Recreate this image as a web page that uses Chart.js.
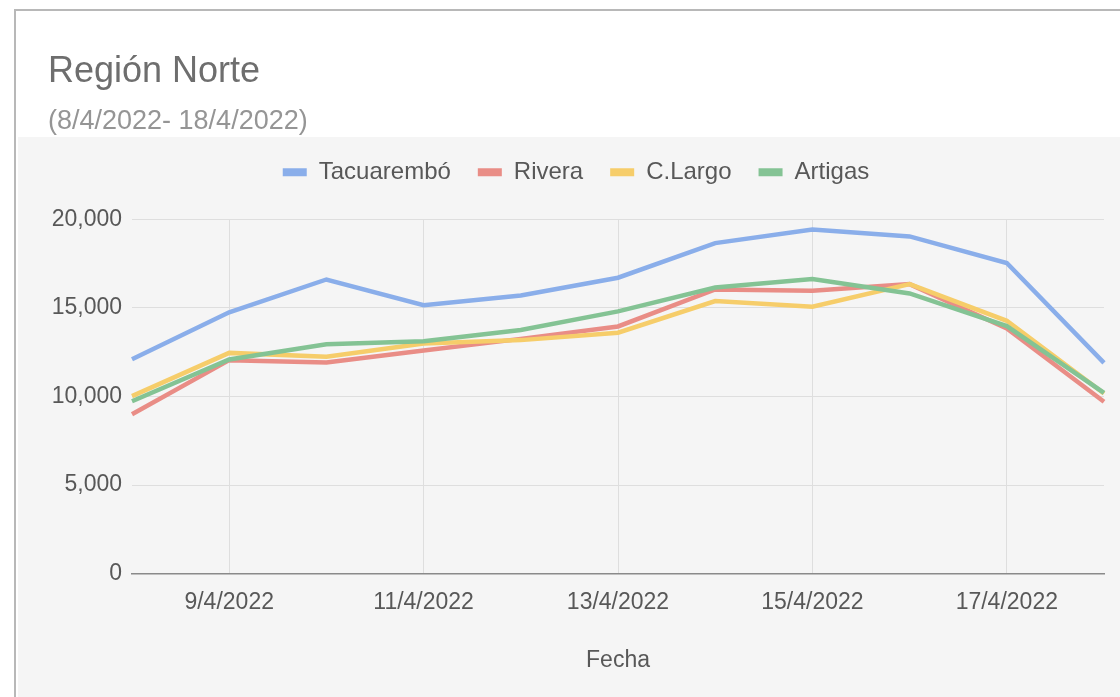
<!DOCTYPE html>
<html>
<head>
<meta charset="utf-8">
<script src="https://cdn.jsdelivr.net/npm/chart.js@4/dist/chart.umd.min.js"></script>
<style>
    body { margin: 0; background: #fff; }
    #box {
        position: absolute; left: 14px; top: 9px;
        width: 1104px; height: 686px;
        border-top: 2px solid #b8b8b8; border-left: 2px solid #b8b8b8;
    }
    #box canvas { display: block; }
</style>
</head>
<body>
<div id="box"><canvas id="chart" width="1104" height="686"></canvas></div>
<script>
var fechas = ["8/4/2022", "9/4/2022", "10/4/2022", "11/4/2022", "12/4/2022", "13/4/2022",
              "14/4/2022", "15/4/2022", "16/4/2022", "17/4/2022", "18/4/2022"];
var tacuarembo = [12100, 14750, 16600, 15150, 15700, 16700, 18650, 19420, 19030, 17530, 11900];
var rivera     = [9000, 12050, 11920, 12600, 13250, 13950, 16040, 15960, 16340, 13840, 9700];
var cLargo     = [10020, 12460, 12240, 12990, 13180, 13600, 15380, 15060, 16340, 14270, 10170];
var artigas    = [9730, 12090, 12950, 13120, 13750, 14800, 16150, 16620, 15810, 13970, 10200];
var yTicks     = [0, 5000, 10000, 15000, 20000];

var FONT = "'Liberation Sans', Arial, sans-serif";
var TEXTO = '#585858';

function serie(label, data, color, order) {
    return {
        label: label,
        data: data,
        borderColor: color,
        backgroundColor: color,
        borderWidth: 4.5,
        pointRadius: 0,
        tension: 0,
        order: order
    };
}

// grey plot background below the header, like the sheets export
var fondo = {
    id: 'fondo',
    beforeDraw: function(chart) {
        var ctx = chart.ctx;
        ctx.save();
        ctx.fillStyle = '#f5f5f5';
        ctx.fillRect(2, 126, chart.width, chart.height - 126);
        ctx.restore();
    },
    // legend needs extra room underneath, chart.js has no margin for it
    beforeLayout: function(chart) {
        var lg = chart.legend;
        if (lg && !lg._alto) {
            var fit = lg.fit;
            lg.fit = function() {
                fit.call(this);
                this.height = 86;
            };
            lg._alto = true;
        }
    }
};

var ctx = document.getElementById('chart').getContext('2d');
new Chart(ctx, {
    type: 'line',
    data: {
        labels: fechas,
        datasets: [
            serie('Tacuarembó', tacuarembo, '#8aaeea', 3),
            serie('Rivera', rivera, '#e98d86', 2),
            serie('C.Largo', cLargo, '#f6cd6a', 1),
            serie('Artigas', artigas, '#84c394', 0)
        ]
    },
    options: {
        responsive: false,
        animation: false,
        locale: 'en-US',
        layout: { padding: { left: 32, right: 16, top: 0, bottom: 23 } },
        plugins: {
            title: {
                display: true,
                text: 'Región Norte',
                align: 'start',
                color: '#6e6e6e',
                font: { family: FONT, size: 36, weight: 'normal' },
                padding: { top: 39, bottom: 0 }
            },
            subtitle: {
                display: true,
                text: '(8/4/2022- 18/4/2022)',
                align: 'start',
                color: '#959595',
                font: { family: FONT, size: 27, weight: 'normal', lineHeight: '16px' },
                padding: { top: 20, bottom: 4 }
            },
            legend: {
                display: true,
                position: 'top',
                labels: {
                    boxWidth: 24,
                    boxHeight: 8,
                    padding: 27,
                    color: TEXTO,
                    font: { family: FONT, size: 24 },
                    generateLabels: function(chart) {
                        var items = Chart.defaults.plugins.legend.labels.generateLabels(chart);
                        for (var i = 0; i < items.length; i++) {
                            items[i].lineWidth = 0;
                        }
                        return items;
                    },
                    sort: function(a, b) { return a.datasetIndex - b.datasetIndex; }
                }
            },
            tooltip: { enabled: false }
        },
        scales: {
            x: {
                offset: false,
                grid: {
                    drawTicks: false,
                    color: function(c) { return c.index % 2 === 1 ? '#dedede' : 'rgba(0,0,0,0)'; }
                },
                border: { display: true, color: '#8a8a8a', width: 1.5 },
                ticks: {
                    autoSkip: false,
                    maxRotation: 0,
                    padding: 15.5,
                    color: TEXTO,
                    font: { family: FONT, size: 23 },
                    callback: function(v, i) { return i % 2 === 1 ? fechas[i] : ''; }
                },
                title: {
                    display: true,
                    text: 'Fecha',
                    color: TEXTO,
                    font: { family: FONT, size: 23 },
                    padding: { top: 14, bottom: 0 }
                }
            },
            y: {
                min: yTicks[0],
                max: yTicks[yTicks.length - 1],
                afterBuildTicks: function(scale) {
                    scale.ticks = yTicks.map(function(v) { return { value: v }; });
                },
                afterFit: function(scale) { scale.width = 84; },
                grid: { drawTicks: false, color: '#dedede' },
                border: { display: false },
                ticks: {
                    padding: 10,
                    color: TEXTO,
                    font: { family: FONT, size: 23 }
                }
            }
        }
    },
    plugins: [fondo]
});
</script>
</body>
</html>
